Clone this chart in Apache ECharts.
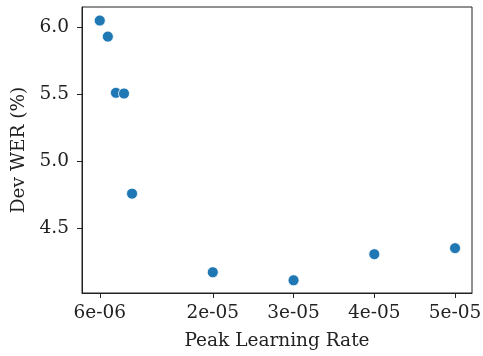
<!DOCTYPE html>
<html>
<head>
<meta charset="utf-8">
<script src="https://cdn.jsdelivr.net/npm/echarts@6/dist/echarts.min.js"></script>
<style>
  html, body { margin: 0; padding: 0; background: #fff; }
  #chart { width: 483px; height: 356px; }
</style>
</head>
<body>
<div id="chart"></div>
<script>
// peak learning rate vs dev WER
const lrs = [6e-6, 7e-6, 8e-6, 9e-6, 1e-5, 2e-5, 3e-5, 4e-5, 5e-5]
const wers = [6.05, 5.93, 5.51, 5.505, 4.757, 4.17, 4.11, 4.305, 4.35]
const xTicks = [6e-6, 2e-5, 3e-5, 4e-5, 5e-5]
const yTicks = [4.5, 5.0, 5.5, 6.0]

const fmtX = (v) => {
  const [m, e] = v.toExponential(0).split('e')
  const n = parseInt(e, 10)
  return m + 'e' + (n < 0 ? '-' : '+') + String(Math.abs(n)).padStart(2, '0')
}

const chart = echarts.init(document.getElementById('chart'))
const axisFont = { fontFamily: 'DejaVu Serif', fontSize: 18.5, color: '#222' }

chart.setOption({
  animation: false,
  grid: {
    left: 82, right: 11, top: 7, bottom: 63,
    outerBoundsMode: 'none',
    containLabel: false,
    show: true, borderColor: '#222', borderWidth: 1, backgroundColor: 'transparent'
  },
  xAxis: {
    type: 'value',
    min: 3.8e-6,
    max: 5.21e-5,
    name: 'Peak Learning Rate',
    nameLocation: 'middle',
    nameGap: 39,
    nameTextStyle: axisFont,
    axisLine: { show: true, onZero: false, lineStyle: { color: '#222', width: 1 } },
    axisTick: { show: true, length: 5, lineStyle: { color: '#222' }, customValues: xTicks },
    axisLabel: { ...axisFont, margin: 11, customValues: xTicks, formatter: fmtX },
    splitLine: { show: false }
  },
  yAxis: {
    type: 'value',
    min: 4.015,
    max: 6.151,
    name: 'Dev WER (%)',
    nameLocation: 'middle',
    nameGap: 52,
    nameTextStyle: axisFont,
    axisLine: { show: true, onZero: false, lineStyle: { color: '#222', width: 1 } },
    axisTick: { show: true, length: 5, lineStyle: { color: '#222' }, customValues: yTicks },
    axisLabel: { ...axisFont, margin: 13, customValues: yTicks, formatter: (v) => v.toFixed(1) },
    splitLine: { show: false }
  },
  series: [{
    type: 'scatter',
    data: lrs.map((x, i) => [x, wers[i]]),
    symbolSize: 11,
    itemStyle: { color: '#1f77b4', borderColor: '#fff', borderWidth: 0.8, opacity: 1 }
  }]
})
</script>
</body>
</html>
